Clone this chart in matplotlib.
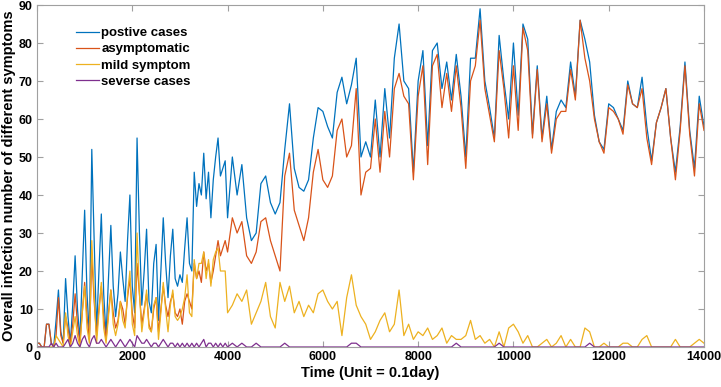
import numpy as np
import matplotlib
matplotlib.use("Agg")
import matplotlib.pyplot as plt

# time axis: finer steps early on, where the oscillations are fast
t_early = list(range(0, 4001, 50))
t_late = list(range(4100, 14001, 100))
time = t_early + t_late

positive = [
    1, 1, 0, 0, 6, 6, 1, 0, 7, 15, 4, 1, 18, 8, 1, 11, 24, 10, 2, 19,
    36, 14, 3, 52, 28, 4, 20, 35, 14, 3, 18, 32, 16, 8, 14, 25, 18, 12, 28, 40,
    16, 9, 55, 30, 11, 20, 31, 12, 9, 22, 27, 7, 20, 34, 22, 13, 24, 31, 18, 16,
    19, 17, 26, 34, 22, 20, 46, 37, 43, 40, 51, 39, 46, 34, 44, 50, 55, 45, 47, 49,
    34,
    50, 40, 48, 34, 28, 30, 43, 45, 38, 35, 38, 52, 64, 47, 42, 41, 44, 55, 63, 62,
    58, 55, 67, 71, 64, 69, 76, 50, 54, 50, 65, 50, 68, 55, 76, 85, 70, 68, 46, 70,
    78, 53, 78, 80, 68, 75, 65, 77, 66, 50, 76, 76, 89, 70, 63, 55, 82, 70, 60, 80,
    61, 85, 81, 56, 74, 55, 66, 52, 62, 65, 63, 75, 66, 86, 81, 75, 61, 54, 52, 64,
    63, 60, 57, 70, 64, 63, 71, 58, 49, 59, 63, 68, 55, 46, 58, 75, 57, 47, 66, 58,
]

asymptomatic = [
    1, 1, 0, 0, 6, 6, 1, 0, 3, 13, 3, 1, 8, 5, 1, 6, 14, 6, 1, 9,
    17, 8, 2, 24, 12, 3, 10, 16, 8, 2, 9, 15, 9, 5, 7, 12, 10, 6, 13, 18,
    9, 5, 22, 14, 6, 10, 14, 6, 4, 10, 13, 4, 10, 16, 11, 8, 12, 14, 9, 8,
    10, 6, 12, 14, 12, 10, 22, 18, 20, 17, 25, 20, 22, 17, 20, 24, 28, 24, 26, 28,
    25,
    34, 30, 33, 24, 22, 25, 33, 34, 28, 24, 20, 45, 51, 36, 32, 28, 34, 46, 52, 44,
    42, 45, 57, 60, 50, 53, 68, 40, 46, 47, 60, 46, 62, 50, 68, 72, 66, 64, 44, 66,
    74, 48, 74, 77, 63, 72, 62, 74, 63, 47, 70, 74, 86, 68, 61, 54, 78, 68, 55, 74,
    57, 84, 78, 55, 73, 54, 64, 51, 60, 62, 62, 73, 65, 86, 76, 70, 60, 54, 51, 63,
    62, 60, 56, 69, 64, 63, 68, 55, 48, 59, 63, 68, 55, 44, 57, 74, 56, 45, 64, 57,
]

mild = [
    0, 0, 0, 0, 0, 0, 0, 0, 3, 2, 1, 0, 9, 3, 0, 4, 8, 3, 0, 9,
    16, 5, 1, 28, 14, 1, 9, 17, 5, 1, 8, 15, 6, 3, 6, 12, 7, 5, 14, 20,
    6, 3, 30, 14, 4, 9, 15, 5, 4, 11, 13, 2, 9, 17, 10, 4, 11, 15, 8, 7,
    8, 10, 13, 19, 9, 8, 23, 18, 22, 22, 25, 18, 23, 16, 23, 25, 26, 20, 20, 20,
    9,
    11, 14, 12, 15, 6, 9, 12, 17, 8, 5, 17, 12, 16, 9, 12, 8, 11, 9, 14, 15,
    12, 10, 12, 3, 13, 19, 11, 8, 6, 2, 4, 7, 9, 4, 6, 15, 3, 6, 2, 4,
    3, 5, 2, 3, 5, 1, 3, 2, 2, 3, 7, 2, 3, 1, 2, 0, 4, 0, 5, 6,
    4, 1, 3, 0, 0, 1, 2, 0, 1, 3, 0, 2, 0, 0, 5, 4, 0, 0, 1, 0,
    0, 0, 1, 1, 0, 0, 2, 3, 0, 0, 0, 0, 0, 2, 0, 0, 0, 1, 2, 1,
]

severe = [
    0, 0, 0, 0, 0, 0, 1, 0, 1, 0, 0, 0, 1, 2, 0, 1, 3, 1, 0, 2,
    3, 1, 0, 2, 3, 1, 1, 2, 1, 0, 1, 2, 1, 0, 1, 2, 1, 0, 1, 2,
    1, 0, 3, 2, 1, 1, 2, 1, 0, 1, 1, 0, 1, 2, 1, 0, 1, 1, 0, 1,
    0, 1, 0, 1, 0, 1, 0, 1, 0, 1, 2, 0, 1, 1, 0, 1, 0, 1, 0, 1,
    0,
    1, 0, 1, 0, 0, 1, 0, 0, 0, 0, 0, 1, 0, 0, 0, 0, 0, 0, 0, 0,
    0, 0, 0, 0, 0, 1, 1, 0, 0, 0, 0, 0, 0, 0, 0, 0, 0, 0, 0, 0,
    0, 0, 0, 0, 0, 0, 0, 1, 0, 0, 0, 0, 0, 0, 0, 0, 1, 0, 0, 0,
    0, 0, 0, 0, 0, 0, 0, 0, 0, 0, 0, 0, 0, 0, 0, 1, 0, 0, 0, 0,
    0, 0, 0, 0, 0, 0, 0, 0, 0, 0, 0, 0, 0, 0, 0, 0, 0, 0, 0, 0,
]

labels = ["postive cases", "asymptomatic", "mild symptom", "severse cases"]
colors = ["#0072BD", "#D95319", "#EDB120", "#7E2F8E"]

plt.rcParams["font.family"] = ["Liberation Sans", "DejaVu Sans"]
plt.rcParams["font.weight"] = "bold"

fig = plt.figure(figsize=(7.21, 3.87), dpi=100)
ax = fig.add_axes([37 / 721, 40 / 387, 667 / 721, 342 / 387])

for series, label, color in zip([positive, asymptomatic, mild, severe], labels, colors):
    ax.plot(time, series, color=color, linewidth=0.9, label=label)

ax.set_xlim(0, 14000)
ax.set_ylim(0, 90)
ax.set_xticks(range(0, 14001, 2000))
ax.set_yticks(range(0, 91, 10))
ax.tick_params(direction="in", length=4, width=0.8, color="#a0a0a0",
               top=True, right=True, labelsize=9, pad=3)
for lab in ax.get_xticklabels() + ax.get_yticklabels():
    lab.set_fontweight("bold")
for sp in ax.spines.values():
    sp.set_color("#a0a0a0")
    sp.set_linewidth(0.8)

ax.set_xlabel("Time (Unit = 0.1day)", fontsize=10.5, fontweight="bold", labelpad=2)
ax.set_ylabel("Overall infection number of different symptoms", fontsize=10.5,
              fontweight="bold", labelpad=2)

leg = ax.legend(loc="upper left", bbox_to_anchor=(0.051, 0.951), frameon=False,
                fontsize=9.5, handlelength=1.7, handletextpad=0.2, labelspacing=0.3,
                borderaxespad=0)
for t in leg.get_texts():
    t.set_fontweight("bold")

fig.savefig("out.png", dpi=100)
